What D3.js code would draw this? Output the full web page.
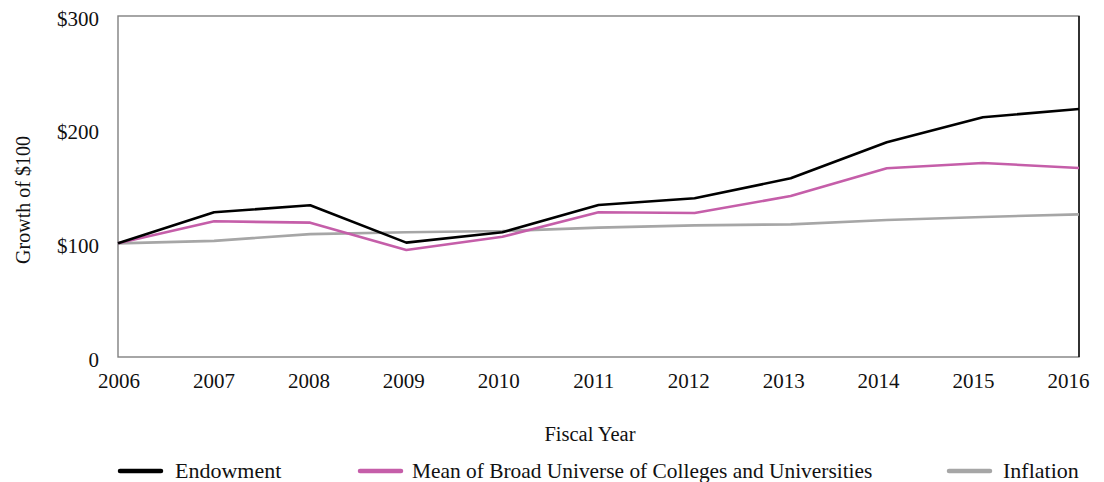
<!DOCTYPE html>
<html>
<head>
<meta charset="utf-8">
<script src="https://cdn.jsdelivr.net/npm/d3@7"></script>
<style>
  body { margin: 0; background: #fff; }
  text { font-family: "Liberation Serif", "DejaVu Serif", serif; fill: #111; }
</style>
</head>
<body>
<div id="chart"></div>
<script>
var years = ['2006', '2007', '2008', '2009', '2010', '2011', '2012', '2013', '2014', '2015', '2016'];
var endowment = [100, 127.3, 133.5, 100.6, 109.7, 133.7, 139.6, 157.2, 188.9, 210.9, 218.2];
var broadMean = [100, 119.4, 118.2, 94.1, 105.8, 127.3, 126.7, 141.6, 166.0, 170.7, 166.3];
var inflation = [100, 102.2, 108.1, 109.7, 110.8, 113.8, 115.8, 116.7, 120.5, 123.2, 125.5];
var yTicks = [0, 100, 200, 300];
var yTickLabels = ['0', '$100', '$200', '$300'];
var seriesNames = ['Endowment', 'Mean of Broad Universe of Colleges and Universities', 'Inflation'];

var W = 1104, H = 482;
var margin = { top: 16, right: 25, bottom: 125, left: 118 };
var width = W - margin.left - margin.right,
    height = H - margin.top - margin.bottom;

var colors = ['#000000', '#c55ea9', '#a6a6a6'];

var svg = d3.select('#chart').append('svg')
    .attr('width', W)
    .attr('height', H);

var x = d3.scalePoint()
    .domain(years)
    .range([0, width]);

// labels in the reference sit a little left of their data points
var xLabel = d3.scalePoint()
    .domain(years)
    .range([0.5, width - 11]);

var y = d3.scaleLinear()
    .domain([0, 300])
    .range([height, 0]);

var g = svg.append('g')
    .attr('transform', 'translate(' + margin.left + ',' + margin.top + ')');

// frame
g.append('rect')
    .attr('width', width)
    .attr('height', height)
    .attr('fill', 'none')
    .attr('stroke', '#808080')
    .attr('stroke-width', 1.4);
g.append('line')
    .attr('x1', width).attr('x2', width)
    .attr('y1', 0).attr('y2', height)
    .attr('stroke', '#000')
    .attr('stroke-width', 1.4);

// y axis labels
var yAxis = d3.axisLeft(y)
    .tickValues(yTicks)
    .tickSize(0)
    .tickPadding(19)
    .tickFormat(function (d, i) { return yTickLabels[i]; });
var yg = g.append('g').call(yAxis);
yg.select('.domain').remove();
yg.selectAll('text')
    .attr('dy', 9)
    .style('font-size', '21px')
    .style('font-family', '"Liberation Serif", serif')
    .attr('fill', '#111');

// x axis labels
var xAxis = d3.axisBottom(xLabel)
    .tickSize(0)
    .tickPadding(0);
var xg = g.append('g')
    .attr('transform', 'translate(0,' + height + ')')
    .call(xAxis);
xg.select('.domain').remove();
xg.selectAll('text')
    .attr('y', 31)
    .attr('dy', 0)
    .style('font-size', '21px')
    .style('font-family', '"Liberation Serif", serif')
    .attr('fill', '#111');

// lines
var line = d3.line()
    .x(function (d, i) { return x(years[i]); })
    .y(function (d) { return y(d); });

var allSeries = [inflation, broadMean, endowment];
var allColors = [colors[2], colors[1], colors[0]];
allSeries.forEach(function (s, i) {
    g.append('path')
        .datum(s)
        .attr('d', line)
        .attr('fill', 'none')
        .attr('stroke', allColors[i])
        .attr('stroke-width', 2.6)
        .attr('stroke-linejoin', 'round');
});

// axis titles
svg.append('text')
    .attr('transform', 'translate(30,200) rotate(-90)')
    .attr('text-anchor', 'middle')
    .style('font-size', '20px')
    .text('Growth of $100');

svg.append('text')
    .attr('x', 590)
    .attr('y', 441)
    .attr('text-anchor', 'middle')
    .style('font-size', '20.5px')
    .text('Fiscal Year');

// legend
var legendX = [118, 358, 947];
var legend = svg.selectAll('.legend')
    .data(seriesNames)
    .enter().append('g')
    .attr('class', 'legend')
    .attr('transform', function (d, i) { return 'translate(' + legendX[i] + ',471)'; });
legend.append('line')
    .attr('x1', 2).attr('x2', 43)
    .attr('y1', 0).attr('y2', 0)
    .attr('stroke', function (d, i) { return colors[i]; })
    .attr('stroke-width', 4.5)
    .attr('stroke-linecap', 'round');
legend.append('text')
    .attr('x', function (d, i) { return i === 0 ? 57 : (i === 1 ? 54 : 56); })
    .attr('y', 7)
    .style('font-size', function (d, i) { return i === 1 ? '21.4px' : '22px'; })
    .text(function (d) { return d; });
</script>
</body>
</html>
